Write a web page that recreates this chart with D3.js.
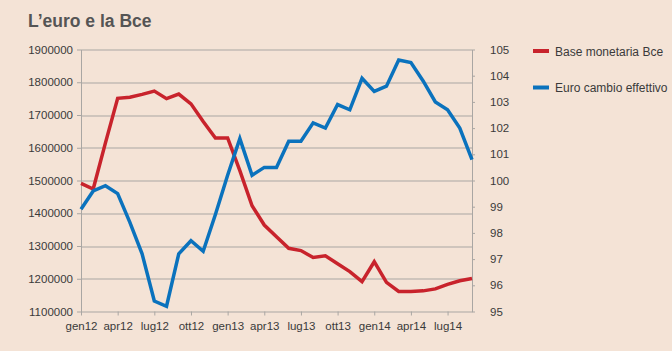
<!DOCTYPE html>
<html>
<head>
<meta charset="utf-8">
<script src="https://cdn.jsdelivr.net/npm/d3@7"></script>
<style>
  body { margin: 0; background: #f4e3d6; }
  svg { display: block; font-family: "Liberation Sans", Arial, sans-serif; }
</style>
</head>
<body>
<div id="wrapper"></div>
<script>
// monthly data, gen 2012 - set 2014
const monthIndex = d3.range(33)
const baseMonetaria = [1491000, 1474000, 1615000, 1751000, 1754000, 1763000, 1773000, 1750000, 1764000, 1734000,
  1680000, 1630000, 1630000, 1530000, 1423000, 1364000, 1328000, 1293000, 1286000, 1265000,
  1270000, 1246000, 1222000, 1191000, 1252000, 1189000, 1161000, 1161000, 1163000, 1169000,
  1183000, 1194000, 1201000]
const euroCambio = [98.9, 99.6, 99.8, 99.5, 98.4, 97.2, 95.4, 95.2, 97.2, 97.7,
  97.3, 98.7, 100.2, 101.6, 100.2, 100.5, 100.5, 101.5, 101.5, 102.2,
  102.0, 102.9, 102.7, 103.9, 103.4, 103.6, 104.6, 104.5, 103.8, 103.0,
  102.7, 102.0, 100.8]
const tickMonths = [0, 3, 6, 9, 12, 15, 18, 21, 24, 27, 30]
const tickLabels = ["gen12", "apr12", "lug12", "ott12", "gen13", "apr13", "lug13", "ott13", "gen14", "apr14", "lug14"]
const leftTicks = [1100000, 1200000, 1300000, 1400000, 1500000, 1600000, 1700000, 1800000, 1900000]
const rightTicks = [95, 96, 97, 98, 99, 100, 101, 102, 103, 104, 105]
const seriesNames = ["Base monetaria Bce", "Euro cambio effettivo"]
const seriesColors = ["#c8232c", "#0a72bd"]

const dimensions = {
  width: 672,
  height: 351,
  margin: { top: 49.5, right: 200, bottom: 39.5, left: 81 },
}
dimensions.boundedWidth = dimensions.width - dimensions.margin.left - dimensions.margin.right
dimensions.boundedHeight = dimensions.height - dimensions.margin.top - dimensions.margin.bottom

const wrapper = d3.select("#wrapper")
  .append("svg")
    .attr("width", dimensions.width)
    .attr("height", dimensions.height)

wrapper.append("rect")
  .attr("width", dimensions.width)
  .attr("height", dimensions.height)
  .attr("fill", "#f4e3d6")

wrapper.append("text")
  .attr("x", 28)
  .attr("y", 26.5)
  .attr("fill", "#555")
  .style("font-size", "17.5px")
  .style("font-weight", "bold")
  .text("L’euro e la Bce")

const bounds = wrapper.append("g")
  .attr("transform", `translate(${dimensions.margin.left}, ${dimensions.margin.top})`)

const xScale = d3.scaleLinear()
  .domain([0, 32])
  .range([0, dimensions.boundedWidth])

const yLeft = d3.scaleLinear()
  .domain([1100000, 1900000])
  .range([dimensions.boundedHeight, 0])

const yRight = d3.scaleLinear()
  .domain([95, 105])
  .range([dimensions.boundedHeight, 0])

// gridlines
bounds.append("g")
  .selectAll("line")
  .data(leftTicks.slice(1))
  .join("line")
    .attr("x1", 0)
    .attr("x2", dimensions.boundedWidth)
    .attr("y1", d => Math.round(yLeft(d)) + 0.5)
    .attr("y2", d => Math.round(yLeft(d)) + 0.5)
    .attr("stroke", "#a9a6a3")

const styleAxis = g => {
  g.select(".domain").attr("stroke", "#a9a6a3")
  g.selectAll(".tick line").attr("stroke", "#a9a6a3")
  g.selectAll(".tick text")
    .attr("fill", "#3a3a3a")
    .style("font-size", "11.5px")
    .style("font-family", "'Liberation Sans', Arial, sans-serif")
}

const xAxis = bounds.append("g")
  .attr("transform", `translate(0, ${dimensions.boundedHeight})`)
  .call(d3.axisBottom(xScale)
    .tickValues(tickMonths)
    .tickFormat((d, i) => tickLabels[i])
    .tickSizeInner(4)
    .tickSizeOuter(0)
    .tickPadding(6))
  .call(styleAxis)

const yAxisLeft = bounds.append("g")
  .call(d3.axisLeft(yLeft)
    .tickValues(leftTicks)
    .tickFormat(d3.format("d"))
    .tickSizeInner(4)
    .tickSizeOuter(0)
    .tickPadding(4))
  .call(styleAxis)

const yAxisRight = bounds.append("g")
  .attr("transform", `translate(${dimensions.boundedWidth}, 0)`)
  .call(d3.axisRight(yRight)
    .tickValues(rightTicks)
    .tickSizeInner(3)
    .tickSizeOuter(0)
    .tickPadding(15))
  .call(styleAxis)

// lines
const baseLine = d3.line()
  .x((d, i) => xScale(monthIndex[i]))
  .y(d => yLeft(d))

const euroLine = d3.line()
  .x((d, i) => xScale(monthIndex[i]))
  .y(d => yRight(d))

bounds.append("path")
  .datum(baseMonetaria)
  .attr("d", baseLine)
  .attr("fill", "none")
  .attr("stroke", seriesColors[0])
  .attr("stroke-width", 3.5)
  .attr("stroke-linejoin", "miter")

bounds.append("path")
  .datum(euroCambio)
  .attr("d", euroLine)
  .attr("fill", "none")
  .attr("stroke", seriesColors[1])
  .attr("stroke-width", 3.5)
  .attr("stroke-linejoin", "miter")

// legend
const legend = wrapper.append("g")
  .attr("transform", "translate(533, 51)")

const legendItems = legend.selectAll("g")
  .data(seriesNames)
  .join("g")
    .attr("transform", (d, i) => `translate(0, ${i * 36.5})`)

legendItems.append("line")
  .attr("x1", 0)
  .attr("x2", 16)
  .attr("stroke", (d, i) => seriesColors[i])
  .attr("stroke-width", 4)

legendItems.append("text")
  .attr("x", 22)
  .attr("y", 4.5)
  .attr("fill", "#3a3a3a")
  .style("font-size", "12px")
  .text(d => d)
</script>
</body>
</html>
